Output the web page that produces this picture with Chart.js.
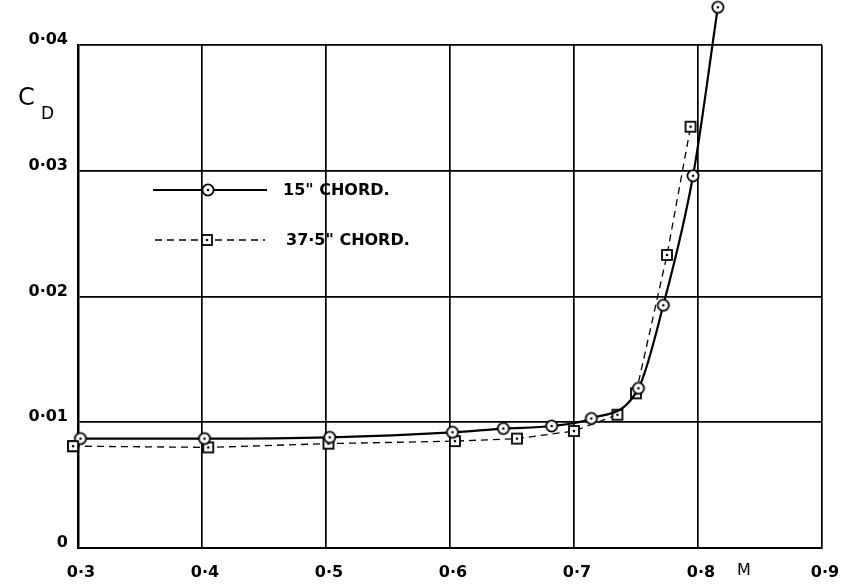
<!DOCTYPE html>
<html>
<head>
<meta charset="utf-8">
<script src="https://cdn.jsdelivr.net/npm/chart.js@4.4.1/dist/chart.umd.min.js"></script>
<style>
  html, body { margin: 0; padding: 0; background: #fff; }
  #wrap { width: 853px; height: 585px; }
</style>
</head>
<body>
<div id="wrap"><canvas id="cd"></canvas></div>
<script>
// --- data ---
const mach15 = [0.302, 0.402, 0.503, 0.602, 0.643, 0.682, 0.714, 0.752, 0.772, 0.796, 0.816];
const cd15 = [0.0087, 0.0087, 0.0088, 0.0092, 0.0095, 0.0097, 0.0103, 0.0127, 0.0193, 0.0296, 0.0430];

const mach375 = [0.296, 0.405, 0.502, 0.604, 0.654, 0.700, 0.735, 0.750, 0.775, 0.794];
const cd375 = [0.0081, 0.0080, 0.0083, 0.0085, 0.0087, 0.0093, 0.0106, 0.0123, 0.0233, 0.0335];

const xTicks = [0.3, 0.4, 0.5, 0.6, 0.7, 0.8, 0.9];
const xTickLabels = ["0·3", "0·4", "0·5", "0·6", "0·7", "0·8", "0·9"];
const yTicks = [0, 0.01, 0.02, 0.03, 0.04];
const yTickLabels = ["0", "0·01", "0·02", "0·03", "0·04"];

const legendLabels = ['15" CHORD.', '37·5" CHORD.'];

const FONT = "'DejaVu Sans', sans-serif";

// marker images: open circle / open square with a dot in the middle
function makeMarker(shape) {
  const c = document.createElement("canvas");
  c.width = 16;
  c.height = 16;
  const g = c.getContext("2d");
  g.fillStyle = "#fff";
  g.strokeStyle = "#000";
  g.lineWidth = 1.8;
  if (shape === "circle") {
    g.beginPath();
    g.arc(8, 8, 5.6, 0, Math.PI * 2);
    g.fill();
    g.stroke();
  } else {
    g.fillRect(3, 3, 10, 10);
    g.strokeRect(3, 3, 10, 10);
  }
  g.fillStyle = "#000";
  g.beginPath();
  g.arc(8, 8, 1.3, 0, Math.PI * 2);
  g.fill();
  return c;
}
const circleMark = makeMarker("circle");
const squareMark = makeMarker("square");

const pts15 = mach15.map((m, i) => ({ x: m, y: cd15[i] }));
const pts375 = mach375.map((m, i) => ({ x: m, y: cd375[i] }));

// legend, axis titles drawn on the canvas
const extras = {
  id: "extras",
  afterDatasetsDraw(chart) {
    const g = chart.ctx;
    const area = chart.chartArea;

    // chart.js skips points outside the chart area, redraw those (no area = no skip)
    chart.data.datasets.forEach((ds, i) => {
      chart.getDatasetMeta(i).data.forEach((el) => {
        if (el.y < area.top - 3 || el.x < area.left - 3) el.draw(g);
      });
    });

    g.save();
    g.strokeStyle = "#000";
    g.fillStyle = "#000";

    // legend row 1: solid with circle
    g.lineWidth = 2.2;
    g.setLineDash([]);
    g.beginPath();
    g.moveTo(153, 190);
    g.lineTo(267, 190);
    g.stroke();
    g.drawImage(circleMark, 208 - 8, 190 - 8);

    // legend row 2: dashed with square
    g.lineWidth = 1.3;
    g.setLineDash([7, 5]);
    g.beginPath();
    g.moveTo(155, 240);
    g.lineTo(265, 240);
    g.stroke();
    g.setLineDash([]);
    g.drawImage(squareMark, 207 - 8, 240 - 8);

    g.font = "bold 16px " + FONT;
    g.textBaseline = "middle";
    g.textAlign = "left";
    g.fillText(legendLabels[0], 283, 191);
    g.fillText(legendLabels[1], 286, 241);

    // C_D
    g.font = "24px " + FONT;
    g.fillText("C", 18, 99);
    g.font = "17px " + FONT;
    g.fillText("D", 41, 115);

    // M next to 0·8
    g.font = "16px " + FONT;
    g.textAlign = "center";
    g.fillText("M", 744, 571);
    g.restore();
  },
};

new Chart(document.getElementById("cd"), {
  type: "scatter",
  data: {
    datasets: [
      {
        label: legendLabels[0],
        data: pts15,
        showLine: true,
        borderColor: "#000",
        borderWidth: 2.2,
        cubicInterpolationMode: "monotone",
        pointStyle: circleMark,
        pointRadius: 6,
        clip: false,
        order: 1,
      },
      {
        label: legendLabels[1],
        data: pts375,
        showLine: true,
        borderColor: "#000",
        borderWidth: 1.3,
        borderDash: [7, 5],
        tension: 0,
        pointStyle: squareMark,
        pointRadius: 6,
        clip: false,
        order: 2,
      },
    ],
  },
  options: {
    responsive: true,
    maintainAspectRatio: false,
    animation: false,
    layout: { padding: { top: 45, right: 31, left: 0, bottom: 0 } },
    plugins: { legend: { display: false }, tooltip: { enabled: false } },
    scales: {
      x: {
        type: "linear",
        min: 0.3,
        max: 0.9,
        afterBuildTicks: (s) => { s.ticks = xTicks.map((v) => ({ value: v })); },
        afterFit: (s) => { s.height = 37; },
        grid: { color: "#000", lineWidth: 1.7, drawTicks: false },
        border: { color: "#000", width: 2 },
        ticks: {
          color: "#000",
          padding: 15,
          labelOffset: 3,
          font: { family: FONT, size: 16, weight: "bold" },
          callback: (v) => xTickLabels[xTicks.findIndex((t) => Math.abs(t - v) < 1e-6)],
        },
      },
      y: {
        type: "linear",
        min: 0,
        max: 0.04,
        afterBuildTicks: (s) => { s.ticks = yTicks.map((v) => ({ value: v })); },
        afterFit: (s) => { s.width = 78; },
        grid: { color: "#000", lineWidth: 1.7, drawTicks: false },
        border: { color: "#000", width: 2.5 },
        ticks: {
          color: "#000",
          padding: 10,
          labelOffset: -5,
          font: { family: FONT, size: 16, weight: "bold" },
          callback: (v) => yTickLabels[yTicks.findIndex((t) => Math.abs(t - v) < 1e-6)],
        },
      },
    },
  },
  plugins: [extras],
});
</script>
</body>
</html>
